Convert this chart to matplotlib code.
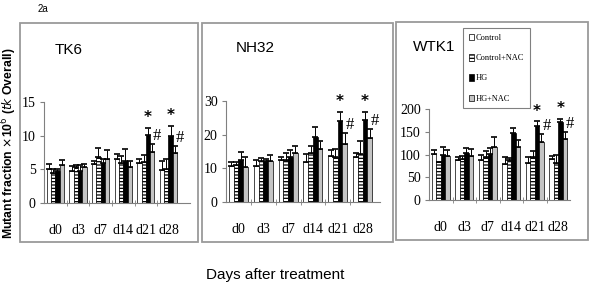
import numpy as np
import matplotlib.pyplot as plt
from matplotlib.patches import Rectangle, Patch
from matplotlib.ticker import FixedLocator

days = ["d0", "d3", "d7", "d14", "d21", "d28"]
groups = ["Control", "Control+NAC", "HG", "HG+NAC"]

# TK6
tk6_mean = [[5.0, 4.7, 5.8, 6.5, 6.0, 4.9],
            [4.4, 5.4, 6.8, 6.0, 6.1, 5.0],
            [4.7, 4.7, 6.0, 6.3, 10.1, 9.9],
            [5.6, 5.3, 6.6, 5.4, 7.6, 7.5]]
tk6_err = [[0.8, 0.8, 0.5, 0.8, 0.6, 1.4],
           [0.6, 0.3, 1.4, 1.0, 1.0, 1.5],
           [0.3, 0.9, 0.5, 1.7, 1.0, 1.5],
           [0.8, 0.5, 1.2, 0.9, 1.2, 0.9]]

# NH32
nh32_mean = [[10.8, 10.7, 12.5, 11.8, 13.8, 13.4],
             [11.1, 12.2, 12.4, 14.6, 13.5, 14.3],
             [12.6, 12.1, 13.5, 19.2, 24.1, 24.5],
             [10.4, 12.2, 14.6, 15.7, 17.3, 19.1]]
nh32_err = [[1.0, 1.9, 0.9, 2.5, 1.5, 1.2],
            [0.7, 1.0, 2.2, 2.0, 2.3, 3.8],
            [2.4, 0.8, 1.9, 3.1, 2.7, 2.3],
            [2.9, 1.7, 1.9, 2.4, 3.1, 2.5]]

# WTK1
wtk1_mean = [[102, 88, 89, 80, 82, 90],
             [84, 90, 95, 88, 94, 81],
             [99, 104, 102, 147, 163, 171],
             [97, 97, 116, 117, 128, 135]]
wtk1_err = [[8, 6, 9, 15, 12, 7],
            [0, 7, 13, 5, 13, 18],
            [18, 11, 13, 12, 10, 8],
            [12, 14, 22, 14, 16, 14]]

titles = ["TK6", "NH32", "WTK1"]
ylims = [15, 30, 200]
ysteps = [5, 10, 50]
means = [tk6_mean, nh32_mean, wtk1_mean]
errs = [tk6_err, nh32_err, wtk1_err]

fig = plt.figure(figsize=(5.91, 3.0), dpi=100)
W, H = 591.0, 300.0

def fx(px):
    return px / W

def fy(py):
    return 1 - py / H

# panel boxes (pixels: x0, y0, x1, y1)
boxes = [(20, 23, 198, 242), (202, 23, 393, 242), (396, 22, 588, 240)]
for x0, y0, x1, y1 in boxes:
    fig.patches.append(Rectangle((fx(x0), fy(y1)), fx(x1 - x0), (y1 - y0) / H,
                                 transform=fig.transFigure, fill=False,
                                 edgecolor="#9a9a9a", lw=1.3))

# axes positions (pixels: left, right, bottom, top)
axpos = [(44, 190, 203, 102), (226, 380, 202, 101), (429, 570, 200, 109)]
xlims = [(-0.5, 5.95), (-0.5, 5.7), (-0.5, 5.5)]
title_pos = [(55, 50), (236, 48), (413, 47)]

colors = ["white", "white", "black", "#c4c4c4"]
hatches = [None, "-----", None, None]
width = 0.19
offs = (np.arange(4) - 1.5) * width
x = np.arange(len(days))

plt.rcParams["hatch.linewidth"] = 0.9
serif = ["Liberation Serif", "DejaVu Serif"]

for k in range(3):
    l, r, b, t = axpos[k]
    ax = fig.add_axes([fx(l), fy(b), fx(r - l), (b - t) / H])
    for g in range(4):
        ax.bar(x + offs[g], means[k][g], width, color=colors[g],
               hatch=hatches[g], edgecolor="black", lw=0.5)
        ax.errorbar(x + offs[g], means[k][g],
                    yerr=[np.zeros(len(days)), errs[k][g]], fmt="none",
                    ecolor="black", elinewidth=0.7, capsize=2, capthick=1.2)
    ym = ylims[k]
    for i in (4, 5):
        top_hg = means[k][2][i] + errs[k][2][i]
        ax.text(x[i] + offs[2], top_hg + ym * 0.03, "*", ha="center",
                va="bottom", fontsize=11, fontweight="bold", clip_on=False)
        top_n = means[k][3][i] + errs[k][3][i]
        ax.text(x[i] + offs[3] + 0.22, top_n + ym * 0.0, "#", ha="center",
                va="bottom", fontsize=12, family=serif, clip_on=False)
    ax.set_ylim(0, ym)
    ax.set_xlim(*xlims[k])
    ax.set_yticks(np.arange(0, ym + 1, ysteps[k]))
    ax.set_xticks(x)
    ax.set_xticklabels(days)
    ax.xaxis.set_minor_locator(FixedLocator(x[:-1] + 0.5))
    ax.tick_params(axis="x", which="major", length=0, pad=15)
    ax.tick_params(axis="x", which="minor", length=4, color="#808080",
                   direction="inout")
    ax.tick_params(axis="y", length=3, color="#808080", pad=3)
    for lab in ax.get_xticklabels() + ax.get_yticklabels():
        lab.set_family(serif)
        lab.set_fontsize(10)
    for s in ("top", "right"):
        ax.spines[s].set_visible(False)
    for s in ("left", "bottom"):
        ax.spines[s].set_color("#808080")
        ax.spines[s].set_linewidth(0.8)
    ax.set_facecolor("none")
    tx, ty = title_pos[k]
    fig.text(fx(tx), fy(ty), titles[k], fontsize=11, family="Liberation Sans",
             va="center", ha="left")

handles = [Patch(facecolor=colors[g], hatch=hatches[g], edgecolor="black",
                 lw=0.5) for g in range(4)]
leg = fig.legend(handles, groups, loc="upper left",
                 bbox_to_anchor=(fx(459), fy(24)), fancybox=False,
                 edgecolor="#808080", framealpha=1, handlelength=0.6,
                 handleheight=0.8, handletextpad=0.2, labelspacing=1.45,
                 borderpad=0.7, prop={"family": serif, "size": 6})
leg.get_frame().set_linewidth(0.8)

fig.text(fx(38), fy(9), "2a", fontsize=7, family="Liberation Sans",
         va="center", ha="left")
fig.text(fx(9), fy(143), r"Mutant fraction $\times$10$^6$ ($\it{tk}$ Overall)",
         rotation=90, fontsize=8.8, fontweight="bold", family="Liberation Sans",
         va="center", ha="center")
fig.text(fx(275), fy(275), "Days after treatment", fontsize=11,
         family="Liberation Sans", va="center", ha="center")

fig.savefig("out.png", dpi=100)
